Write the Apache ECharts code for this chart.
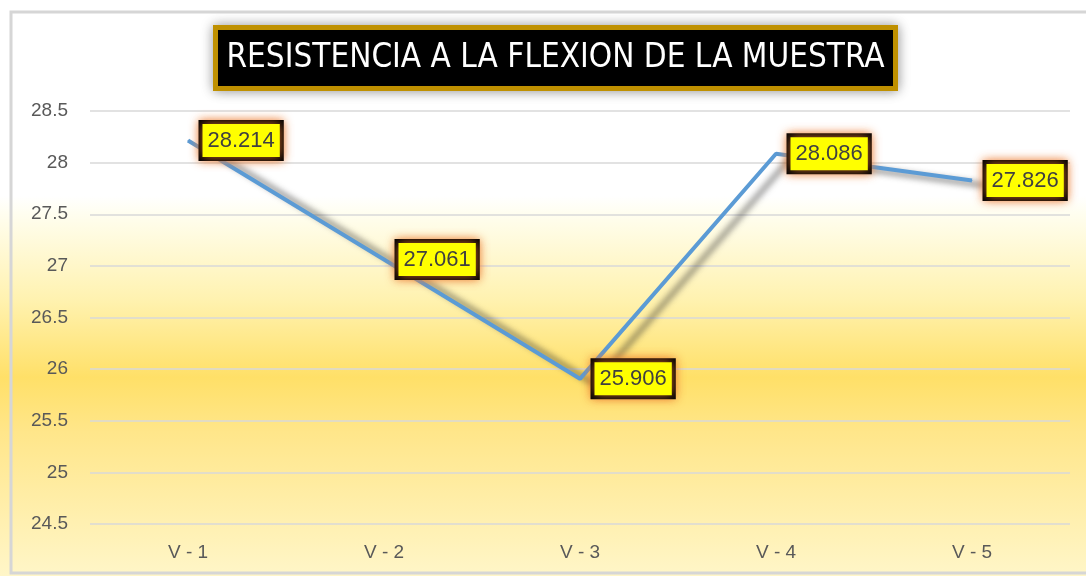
<!DOCTYPE html>
<html>
<head>
<meta charset="utf-8">
<script src="https://cdn.jsdelivr.net/npm/echarts@6/dist/echarts.min.js"></script>
<style>
  html, body { margin: 0; padding: 0; background: #ffffff; }
  #chart { width: 1086px; height: 576px; }
</style>
</head>
<body>
<div id="chart"></div>
<script>
// Flexural strength per specimen
const titleText = 'RESISTENCIA A LA FLEXION DE LA MUESTRA';
const categories = ['V - 1', 'V - 2', 'V - 3', 'V - 4', 'V - 5'];
const strength = [28.214, 27.061, 25.906, 28.086, 27.826];
const yMin = 24.5;
const yMax = 28.5;
const yStep = 0.5;

const chart = echarts.init(document.getElementById('chart'), null, { renderer: 'canvas' });

const option = {
  animation: false,
  backgroundColor: {
    type: 'linear', x: 0, y: 0, x2: 0, y2: 1,
    colorStops: [
      { offset: 0, color: '#ffffff' },
      { offset: 0.34, color: '#ffffff' },
      { offset: 0.37, color: '#fffef0' },
      { offset: 0.52, color: '#fff2b0' },
      { offset: 0.655, color: '#ffe068' },
      { offset: 0.75, color: '#ffe68a' },
      { offset: 1, color: '#fff6c8' }
    ]
  },
  graphic: [
    {
      // outer chart frame
      type: 'rect',
      shape: { x: 11, y: 12, width: 1090, height: 561 },
      style: { fill: 'none', stroke: '#d6d6d6', lineWidth: 3 },
      z: 0
    },
    {
      // title plate
      type: 'group',
      left: 213,
      top: 25,
      z: 10,
      children: [
        {
          type: 'rect',
          shape: { x: 0, y: 0, width: 680, height: 61 },
          style: {
            fill: '#000000', stroke: '#bf9000', lineWidth: 5,
            shadowBlur: 12, shadowColor: 'rgba(0,0,0,0.35)'
          }
        },
        {
          type: 'text',
          x: 340, y: 31,
          style: {
            text: titleText,
            fill: '#ffffff',
            font: '33px "Liberation Sans Narrow", "DejaVu Sans Condensed", sans-serif',
            align: 'center',
            verticalAlign: 'middle'
          }
        }
      ]
    }
  ],
  grid: { left: 90, right: 16, top: 111, bottom: 52 },
  xAxis: {
    type: 'category',
    data: categories,
    boundaryGap: true,
    axisLine: { show: false },
    axisTick: { show: false },
    axisLabel: {
      color: '#595959',
      fontSize: 19,
      fontFamily: 'Liberation Sans, sans-serif',
      margin: 19
    }
  },
  yAxis: {
    type: 'value',
    min: yMin,
    max: yMax,
    interval: yStep,
    axisLine: { show: false },
    axisTick: { show: false },
    axisLabel: {
      color: '#595959',
      fontSize: 19,
      fontFamily: 'Liberation Sans, sans-serif',
      margin: 22,
      formatter: v => String(Math.round(v * 10) / 10)
    },
    splitLine: { lineStyle: { color: '#d9d9d9', width: 1.5 } }
  },
  series: [
    {
      type: 'line',
      data: strength,
      symbol: 'circle',
      symbolSize: 1,
      showSymbol: true,
      itemStyle: { color: '#5b9bd5' },
      lineStyle: {
        color: '#5b9bd5',
        width: 4,
        shadowColor: 'rgba(45,45,45,0.65)',
        shadowBlur: 6,
        shadowOffsetX: 14,
        shadowOffsetY: 5
      },
      label: {
        show: true,
        position: 'right',
        distance: 14,
        formatter: p => p.value.toFixed(3),
        color: '#404040',
        fontSize: 22,
        fontFamily: 'Liberation Sans, sans-serif',
        backgroundColor: '#ffff00',
        borderColor: '#000000',
        borderWidth: 4,
        padding: [6, 5, 5, 5],
        shadowColor: 'rgba(237,125,49,0.85)',
        shadowBlur: 10
      },
      z: 5
    }
  ]
};

chart.setOption(option);
</script>
</body>
</html>
